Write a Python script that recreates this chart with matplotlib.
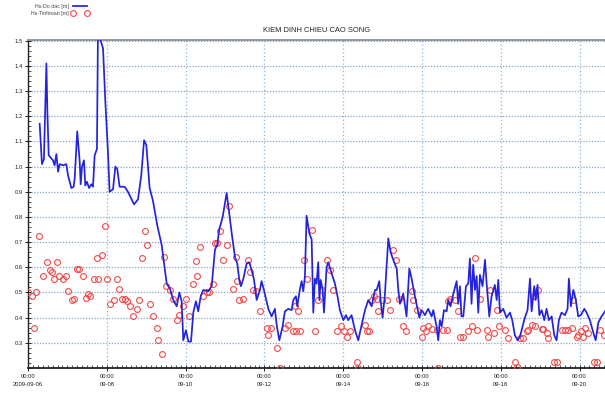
import matplotlib
matplotlib.use("Agg")
import matplotlib.pyplot as plt
import matplotlib.dates as mdates
from matplotlib.ticker import MultipleLocator, FuncFormatter
from datetime import datetime, timedelta

# Measured significant wave height (hours since 2009-09-06 00:00, metres)
obs_hours = [7.1, 8.5, 9.7, 11.2, 11.8, 12.6, 15.2, 16.2, 17.3, 18.3, 19.3, 21.3, 23.3, 24.4,
             26.4, 27.8, 28.4, 30.0, 31.5, 32.1, 32.9, 34.1, 34.9, 35.9, 37.2, 38.6, 39.6, 40.6,
             42.0, 42.6, 44.3, 45.7, 47.1, 48.7, 49.7, 51.8, 53.2, 54.4, 55.8, 58.9, 60.9, 64.6,
             67.0, 69.0, 70.7, 72.1, 74.1, 76.1, 78.8, 81.4, 84.5, 86.5, 88.5, 90.6, 92.2, 93.6,
             94.6, 96.2, 97.7, 99.3, 100.7, 102.3, 103.7, 105.2, 106.8, 109.8, 111.9, 113.9, 115.3,
             116.5, 118.6, 121.0, 122.0, 124.1, 126.1, 127.5, 128.7, 129.7, 131.2, 133.2, 134.8,
             136.2, 137.7, 139.3, 141.3, 142.3, 143.7, 146.4, 148.4, 150.4, 151.5, 153.1, 155.1,
             156.5, 158.6, 160.6, 161.6, 163.2, 164.0, 165.7, 166.7, 167.7, 168.7, 169.7, 171.4,
             172.8, 173.8, 174.8, 175.8, 176.8, 177.5, 178.3, 179.5, 180.3, 181.9, 182.9, 185.0,
             187.0, 188.4, 190.0, 192.1, 193.7, 195.1, 197.1, 199.2, 201.2, 203.2, 205.3, 207.3,
             209.3, 211.4, 212.4, 214.0, 214.8, 216.0, 217.4, 219.5, 220.9, 222.5, 224.6, 225.6,
             226.6, 228.6, 230.6, 232.3, 233.7, 235.1, 236.7, 238.4, 239.8, 241.8, 243.8, 245.9,
             246.9, 248.9, 249.9, 250.9, 252.0, 253.4, 255.0, 256.0, 257.4, 259.1, 261.1, 262.1,
             263.1, 264.1, 265.2, 266.8, 268.2, 269.2, 270.2, 271.2, 272.3, 273.3, 274.3, 275.3,
             276.9, 278.4, 279.4, 281.0, 282.4, 284.4, 285.5, 286.5, 287.5, 289.5, 291.5, 293.6,
             295.0, 296.6, 298.3, 299.7, 301.1, 302.7, 304.3, 305.8, 306.8, 308.4, 309.2, 310.4,
             311.5, 312.9, 314.5, 315.9, 317.3, 319.0, 320.6, 322.0, 323.4, 325.0, 327.1, 328.7,
             329.5, 330.7, 332.2, 333.6, 335.2, 336.8, 338.9, 340.3, 342.3, 344.4, 345.8, 347.4,
             349.4, 351.5]
obs_hs = [1.17, 1.01, 1.03, 1.41, 1.22, 1.045, 1.025, 1.005, 1.05, 0.98, 1.01, 1.005, 1.01, 0.965,
          0.915, 0.92, 0.95, 1.14, 1.02, 0.93, 1.0, 1.025, 0.925, 0.94, 0.915, 0.93, 0.92, 1.045,
          1.07, 1.52, 1.50, 1.47, 1.26, 1.06, 0.90, 0.91, 1.0, 0.99, 0.92, 0.92, 0.90, 0.85,
          0.87, 0.965, 1.105, 1.085, 0.915, 0.865, 0.765, 0.69, 0.535, 0.515, 0.47, 0.445, 0.50, 0.465,
          0.31, 0.35, 0.305, 0.305, 0.42, 0.465, 0.425, 0.485, 0.51, 0.505, 0.525, 0.67, 0.69,
          0.75, 0.80, 0.895, 0.845, 0.735, 0.64, 0.615, 0.55, 0.525, 0.555, 0.615, 0.62,
          0.59, 0.55, 0.47, 0.51, 0.545, 0.51, 0.435, 0.405, 0.435, 0.37, 0.31, 0.365,
          0.425, 0.435, 0.43, 0.47, 0.485, 0.445, 0.515, 0.545, 0.505, 0.565, 0.805, 0.735,
          0.71, 0.42, 0.555, 0.535, 0.62, 0.47, 0.55, 0.51, 0.42, 0.60, 0.62, 0.575,
          0.535, 0.49, 0.43, 0.39, 0.41, 0.39, 0.41, 0.35, 0.31, 0.37, 0.43, 0.47,
          0.445, 0.51, 0.51, 0.545, 0.47, 0.40, 0.49, 0.715, 0.66, 0.63, 0.595, 0.51,
          0.455, 0.495, 0.405, 0.595, 0.555, 0.505, 0.455, 0.40, 0.43, 0.41, 0.435, 0.405,
          0.43, 0.365, 0.31, 0.39, 0.365, 0.43, 0.425, 0.47, 0.445, 0.495, 0.545, 0.455,
          0.525, 0.405, 0.405, 0.525, 0.535, 0.635, 0.455, 0.61, 0.51, 0.565, 0.42, 0.57,
          0.525, 0.63, 0.535, 0.405, 0.485, 0.53, 0.47, 0.55, 0.42, 0.435, 0.40, 0.42,
          0.39, 0.33, 0.31, 0.325, 0.36, 0.40, 0.43, 0.555, 0.425, 0.525, 0.47, 0.53,
          0.41, 0.43, 0.39, 0.435, 0.39, 0.405, 0.33, 0.31, 0.39, 0.42, 0.41, 0.435,
          0.555, 0.445, 0.51, 0.475, 0.405, 0.41, 0.435, 0.42, 0.39, 0.34, 0.31, 0.38,
          0.405, 0.425]

# Computed significant wave height
calc_hours = [0.0, 2.3, 3.8, 4.9, 6.9, 9.0, 11.4, 13.4, 14.4, 16.0, 17.5, 19.1, 21.1, 23.1, 24.2,
              26.6, 28.0, 29.7, 31.2, 33.3, 35.3, 36.4, 37.8, 40.2, 41.8, 42.8, 44.9, 46.9, 48.3,
              49.9, 52.6, 54.4, 55.4, 57.1, 59.1, 60.5, 62.1, 64.1, 66.6, 67.4, 69.6, 71.3, 72.7,
              74.3, 76.3, 78.4, 79.4, 81.4, 83.0, 84.1, 86.5, 88.5, 90.6, 92.2, 94.2, 96.2, 98.2,
              100.3, 102.3, 103.1, 104.8, 106.8, 108.8, 110.4, 112.7, 113.9, 115.3, 117.2, 119.0,
              121.0, 122.6, 124.7, 126.9, 127.6, 128.8, 131.1, 134.2, 135.4, 137.2, 139.1, 141.1,
              145.4, 146.4, 147.8, 151.5, 153.5, 156.5, 158.4, 161.6, 162.6, 163.5, 164.6, 166.0,
              168.4, 169.7, 172.9, 174.8, 176.8, 178.9, 182.1, 183.9, 185.8, 188.4, 190.6, 192.2,
              194.3, 196.1, 200.2, 201.0, 205.3, 206.5, 208.0, 209.4, 210.7, 212.4, 213.4, 215.4,
              218.5, 220.5, 222.5, 224.4, 226.0, 228.6, 230.2, 233.7, 234.7, 236.8, 239.8, 240.8,
              242.4, 243.8, 246.1, 248.9, 249.7, 252.9, 255.0, 256.0, 257.0, 260.1, 262.1, 263.1,
              265.1, 268.2, 270.2, 272.6, 273.7, 275.3, 279.4, 280.4, 281.4, 284.0, 286.0, 286.8,
              290.6, 292.6, 296.6, 297.7, 299.7, 301.7, 303.8, 304.7, 306.8, 308.4, 308.8, 310.8,
              312.9, 314.0, 315.9, 316.9, 320.6, 322.0, 325.1, 327.1, 329.1, 331.2, 332.2, 334.2,
              335.2, 336.8, 338.2, 339.3, 341.1, 344.9, 346.4, 348.4, 351.0]
calc_hs = [0.50, 0.485, 0.36, 0.50, 0.725, 0.565, 0.62, 0.59, 0.58, 0.555, 0.62, 0.565, 0.555, 0.565, 0.505,
           0.47, 0.475, 0.595, 0.595, 0.565, 0.48, 0.495, 0.485, 0.555, 0.635, 0.555, 0.65, 0.765, 0.555,
           0.455, 0.47, 0.555, 0.515, 0.475, 0.475, 0.465, 0.445, 0.405, 0.435, 0.47, 0.635, 0.745, 0.69,
           0.455, 0.405, 0.36, 0.31, 0.255, 0.64, 0.525, 0.51, 0.475, 0.39, 0.41, 0.445, 0.475, 0.405,
           0.535, 0.625, 0.565, 0.68, 0.485, 0.50, 0.50, 0.535, 0.695, 0.695, 0.745, 0.63,
           0.69, 0.845, 0.515, 0.64, 0.545, 0.47, 0.475, 0.63, 0.58, 0.51, 0.505, 0.425,
           0.36, 0.33, 0.36, 0.28, 0.20, 0.36, 0.37, 0.345, 0.445, 0.345, 0.425, 0.345,
           0.63, 0.555, 0.75, 0.345, 0.47, 0.51, 0.63, 0.59, 0.51, 0.345, 0.365, 0.345,
           0.325, 0.345, 0.225, 0.20, 0.37, 0.345, 0.345, 0.47, 0.485, 0.475, 0.425, 0.47,
           0.47, 0.43, 0.67, 0.63, 0.475, 0.365, 0.345, 0.505, 0.47, 0.43, 0.325, 0.36,
           0.345, 0.365, 0.355, 0.35, 0.20, 0.35, 0.35, 0.465, 0.475, 0.47, 0.425, 0.325,
           0.325, 0.345, 0.365, 0.635, 0.35, 0.475, 0.35, 0.325, 0.51, 0.34, 0.43, 0.365,
           0.35, 0.32, 0.225, 0.205, 0.32, 0.32, 0.345, 0.35, 0.37, 0.485, 0.365, 0.51,
           0.355, 0.355, 0.34, 0.32, 0.225, 0.225, 0.35, 0.35, 0.35, 0.36, 0.47, 0.325,
           0.33, 0.345, 0.325, 0.36, 0.34, 0.225, 0.225, 0.35, 0.33]

start = datetime(2009, 9, 6)
end_hours = 351.5
tick_days = [6, 8, 10, 12, 14, 16, 18, 20]
y_ticks = [0.3, 0.4, 0.5, 0.6, 0.7, 0.8, 0.9, 1.0, 1.1, 1.2, 1.3, 1.4, 1.5]

plt.rcParams['font.family'] = ['Liberation Sans', 'DejaVu Sans']

t_obs = [start + timedelta(hours=h) for h in obs_hours]
t_calc = [start + timedelta(hours=h) for h in calc_hours]

fig = plt.figure(figsize=(6.05, 4.0), dpi=100)
fig.patch.set_facecolor('white')
ax = fig.add_axes([28 / 605, 32 / 400, 1 - 28 / 605, 328 / 400])

ax.plot(t_calc, calc_hs, 'o', mfc='none', mec='#f24a4a', ms=4.2, mew=0.8,
        label='Hs-Tinhtoan [m]', zorder=3)
ax.plot(t_obs, obs_hs, color='#2323dd', lw=1.25, label='Hs-Do dac [m]', zorder=4)

ax.set_xlim(start, start + timedelta(hours=end_hours))
ax.set_ylim(0.2, 1.503)

# x axis: major every 2 days, minor every 3 hours
ax.xaxis.set_major_locator(mdates.DayLocator(bymonthday=tick_days))
ax.xaxis.set_minor_locator(mdates.HourLocator(byhour=range(0, 24, 3)))


def date_label(x, pos):
    d = mdates.num2date(x).replace(tzinfo=None)
    if d.date() == start.date():
        return d.strftime('%H:%M\n%Y-%m-%d')
    return d.strftime('%H:%M\n%m-%d')


ax.xaxis.set_major_formatter(FuncFormatter(date_label))
ax.set_yticks(y_ticks)
ax.yaxis.set_major_formatter(FuncFormatter(lambda v, p: f'{v:.1f}'))
ax.yaxis.set_minor_locator(MultipleLocator(0.02))

ax.tick_params(axis='both', which='major', labelsize=4.2, colors='#222222',
               direction='inout', length=4, width=0.7, pad=2)
ax.tick_params(axis='both', which='minor', direction='in', length=2.5, width=0.6,
               colors='#333333')
for lbl in ax.get_xticklabels():
    lbl.set_linespacing(1.9)

# Grid lines
ax.grid(axis='x', which='major', color='#86b6e3', ls=(0, (1, 2)), lw=0.9)
ax.grid(axis='y', which='major', color='#8aa5c8', ls=(0, (1, 1.3)), lw=0.9)
ax.set_axisbelow(True)

for side in ('left', 'bottom'):
    ax.spines[side].set_color('#222222')
    ax.spines[side].set_linewidth(1.0)
ax.spines['bottom'].set_linewidth(1.3)
ax.spines['top'].set_color('#8c8c8c')
ax.spines['top'].set_linewidth(1.3)
ax.spines['right'].set_visible(False)

fig.text(317 / 605, 1 - 30 / 400, 'KIEM DINH CHIEU CAO SONG', ha='center', va='center',
         fontsize=5.4, color='#222222')

handles, labels = ax.get_legend_handles_labels()
leg = fig.legend(handles[::-1], labels[::-1], loc='upper right',
                 bbox_to_anchor=(89 / 605, 1 - 4 / 400), fontsize=3.8, frameon=False,
                 markerfirst=False, numpoints=2, handlelength=3.4, handletextpad=0.5,
                 labelspacing=0.35, borderpad=0, borderaxespad=0)
for txt in leg.get_texts():
    txt.set_color('#444444')

fig.savefig('out.png', dpi=100, facecolor='white')
